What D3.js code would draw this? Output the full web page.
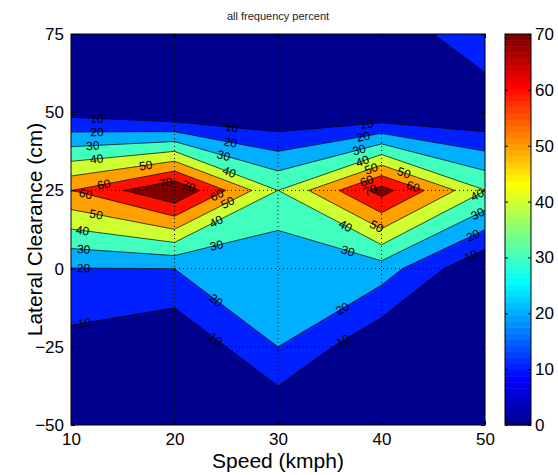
<!DOCTYPE html>
<html>
<head>
<meta charset="utf-8">
<script src="https://cdn.jsdelivr.net/npm/d3@7"></script>
<style>
  body { margin: 0; background: #fff; }
  text { font-family: "Liberation Sans", Arial, Helvetica, sans-serif; }
</style>
</head>
<body>
<svg id="chart" width="558" height="475"></svg>
<script>
// Grid axes
const speeds = [10, 20, 30, 40, 50];            // kmph
const clearances = [-50, -25, 0, 25, 50, 75];   // cm

// Frequency percent at each speed, one row per lateral clearance
const freqAtM50 = [0, 0, 0, 0, 0];
const freqAtM25 = [6.3, 0, 20.02, 1, 0];
const freqAt0   = [19.7, 20.05, 20.5, 25.1, 0];
const freqAt25  = [59.8, 79.7, 39.95, 74, 40.2];
const freqAt50  = [6.5, 0.2, 0, 0, 0];
const freqAt75  = [0, 0, 0, 0, 19.8];

// Contour levels and tick values
const levels = [0, 10, 20, 30, 40, 50, 60, 70];
const xTicks = [10, 20, 30, 40, 50];
const yTicks = [-50, -25, 0, 25, 50, 75];
const cbTicks = [0, 10, 20, 30, 40, 50, 60, 70];

// Contour label anchors: [level, speed, clearance]
const labelSpots = [
  [10, 12.5, 47.0], [20, 12.5, 43.6], [30, 12.1, 39.0], [40, 12.5, 34.5],
  [50, 17.25, 32.4], [60, 13.2, 26.2], [60, 11.35, 23.0], [70, 19.2, 26.7],
  [70, 21.3, 25.7], [60, 24.2, 22.8], [50, 25.2, 20.7], [50, 12.4, 16.8],
  [40, 24.1, 14.5], [40, 11.1, 11.5], [30, 24.1, 7.0], [30, 11.2, 5.4],
  [20, 11.2, 0.1], [10, 25.5, 44.3], [20, 25.4, 40.1], [30, 24.7, 35.6],
  [40, 25.2, 30.2], [20, 23.9, -10.6], [10, 23.9, -22.8], [10, 11.35, -18.6],
  [10, 38.6, 45.4], [20, 38.3, 41.3], [30, 37.9, 37.1], [40, 38.2, 33.9],
  [50, 39.05, 31.5], [50, 42.1, 29.9], [60, 38.6, 27.8], [70, 38.9, 25.1],
  [60, 43.0, 25.7], [40, 49.35, 23.0], [30, 49.35, 17.1], [20, 48.9, 10.2],
  [10, 48.7, 3.8], [40, 36.4, 12.9], [50, 39.5, 13.4], [30, 36.7, 5.1],
  [20, 36.25, -13.0], [10, 36.25, -22.8]
];

const plot = { left: 71, right: 485, top: 34, bottom: 425 };
const cbar = { left: 505, right: 531 };

const svg = d3.select("#chart");

const xScale = d3.scaleLinear().domain([speeds[0], speeds[speeds.length - 1]]).range([plot.left, plot.right]);
const yScale = d3.scaleLinear().domain([clearances[0], clearances[clearances.length - 1]]).range([plot.bottom, plot.top]);

// MATLAB-style 64-entry jet colormap (k is 1-based)
const nColors = 64, cmin = 0, cmax = 70;
function jet(k) {
  const r = k < 25 ? 0 : k <= 40 ? (k - 24) / 16 : k <= 56 ? 1 : (72 - k) / 16;
  const g = k < 9 ? 0 : k <= 24 ? (k - 8) / 16 : k <= 40 ? 1 : k <= 55 ? (56 - k) / 16 : 0;
  const b = k <= 8 ? (k + 8) / 16 : k <= 24 ? 1 : k <= 39 ? (40 - k) / 16 : 0;
  return d3.rgb(Math.round(r * 255), Math.round(g * 255), Math.round(b * 255)).toString();
}
const levelColor = v => jet(Math.min(nColors, Math.floor((v - cmin) / (cmax - cmin) * nColors) + 1));

// Contour geometry on the speed x clearance grid
const nx = speeds.length, ny = clearances.length;
const rows = [freqAtM50, freqAtM25, freqAt0, freqAt25, freqAt50, freqAt75];
const values = rows.flat();
const contours = d3.contours().size([nx, ny]).thresholds(levels)(values);

// Grid cell coordinates -> data units (values sit at cell centres)
const colX = d3.scaleLinear().domain([0.5, nx - 0.5]).range([speeds[0], speeds[nx - 1]]);
const rowY = d3.scaleLinear().domain([0.5, ny - 0.5]).range([clearances[0], clearances[ny - 1]]);
const toPx = ([p, q]) => [xScale(colX(p)), yScale(rowY(q))];
const proj = d3.geoTransform({
  point(p, q) { const [a, b] = toPx([p, q]); this.stream.point(a, b); }
});
const path = d3.geoPath(proj);

svg.append("defs").append("clipPath").attr("id", "plotClip")
  .append("rect")
  .attr("x", plot.left).attr("y", plot.top)
  .attr("width", plot.right - plot.left).attr("height", plot.bottom - plot.top);

const area = svg.append("g").attr("clip-path", "url(#plotClip)");

// Filled bands
area.append("g").selectAll("path")
  .data(contours)
  .join("path")
  .attr("d", path)
  .attr("fill", d => levelColor(d.value))
  .attr("stroke", "none");

// Contour lines
area.append("g").selectAll("path")
  .data(contours.filter(d => d.value > levels[0]))
  .join("path")
  .attr("d", path)
  .attr("fill", "none")
  .attr("stroke", "#000")
  .attr("stroke-width", 0.7);

// Dotted grid
const gridG = svg.append("g").attr("stroke", "#000").attr("stroke-width", 0.9)
  .attr("stroke-dasharray", "1,3");
gridG.selectAll("line.gx").data(xTicks.slice(1, -1)).join("line")
  .attr("x1", d => xScale(d)).attr("x2", d => xScale(d))
  .attr("y1", plot.top).attr("y2", plot.bottom);
gridG.selectAll("line.gy").data(yTicks.slice(1, -1)).join("line")
  .attr("y1", d => yScale(d)).attr("y2", d => yScale(d))
  .attr("x1", plot.left).attr("x2", plot.right);

// Contour labels, snapped onto their level's line and turned along it
const insideDomain = ([x, y]) =>
  x >= speeds[0] - 1e-9 && x <= speeds[nx - 1] + 1e-9 &&
  y >= clearances[0] - 1e-9 && y <= clearances[ny - 1] + 1e-9;
function segmentsFor(level) {
  const c = contours.find(d => d.value === level);
  const segs = [];
  c.coordinates.forEach(poly => poly.forEach(ring => {
    for (let i = 0; i < ring.length - 1; i++) {
      const a = [colX(ring[i][0]), rowY(ring[i][1])];
      const b = [colX(ring[i + 1][0]), rowY(ring[i + 1][1])];
      if (insideDomain(a) && insideDomain(b)) {
        segs.push([[xScale(a[0]), yScale(a[1])], [xScale(b[0]), yScale(b[1])]]);
      }
    }
  }));
  return segs;
}
function snap(level, sx, sy) {
  const px = xScale(sx), py = yScale(sy);
  let best = null;
  segmentsFor(level).forEach(([a, b]) => {
    const dx = b[0] - a[0], dy = b[1] - a[1];
    const len2 = dx * dx + dy * dy;
    if (len2 < 1e-9) return;
    let t = ((px - a[0]) * dx + (py - a[1]) * dy) / len2;
    t = Math.max(0, Math.min(1, t));
    const qx = a[0] + t * dx, qy = a[1] + t * dy;
    const dist = (qx - px) ** 2 + (qy - py) ** 2;
    if (!best || dist < best.dist) {
      let ang = Math.atan2(dy, dx) * 180 / Math.PI;
      if (ang > 90) ang -= 180;
      if (ang <= -90) ang += 180;
      best = { x: qx, y: qy, ang, dist };
    }
  });
  return best || { x: px, y: py, ang: 0 };
}
svg.append("g").selectAll("text")
  .data(labelSpots.map(([lv, sx, sy]) => ({ lv, ...snap(lv, sx, sy) })))
  .join("text")
  .attr("transform", d => `translate(${d.x},${d.y}) rotate(${d.ang})`)
  .attr("text-anchor", "middle")
  .attr("dy", "0.35em")
  .attr("font-size", 12)
  .attr("fill", "#000")
  .text(d => d.lv);

// Axes with inward ticks
const axisFont = 17;
const gx = svg.append("g").attr("transform", `translate(0,${plot.bottom})`)
  .call(d3.axisBottom(xScale).tickValues(xTicks).tickSizeInner(-4).tickSizeOuter(0).tickPadding(8));
const gy = svg.append("g").attr("transform", `translate(${plot.left},0)`)
  .call(d3.axisLeft(yScale).tickValues(yTicks).tickSizeInner(-4).tickSizeOuter(0).tickPadding(7));
const gxTop = svg.append("g").attr("transform", `translate(0,${plot.top})`)
  .call(d3.axisTop(xScale).tickValues(xTicks).tickSizeInner(-4).tickSizeOuter(0).tickFormat(""));
const gyRight = svg.append("g").attr("transform", `translate(${plot.right},0)`)
  .call(d3.axisRight(yScale).tickValues(yTicks).tickSizeInner(-4).tickSizeOuter(0).tickFormat(""));
[gx, gy, gxTop, gyRight].forEach(g => {
  g.select(".domain").remove();
  g.selectAll(".tick line").attr("stroke", "#000");
  g.selectAll(".tick text").attr("font-size", axisFont).attr("fill", "#000")
    .attr("font-family", "Liberation Sans, Arial, sans-serif");
});

svg.append("rect")
  .attr("x", plot.left).attr("y", plot.top)
  .attr("width", plot.right - plot.left).attr("height", plot.bottom - plot.top)
  .attr("fill", "none").attr("stroke", "#000").attr("stroke-width", 1);

// Colorbar
const cbScale = d3.scaleLinear().domain([cmin, cmax]).range([plot.bottom, plot.top]);
const bands = d3.range(nColors);
svg.append("g").selectAll("rect")
  .data(bands)
  .join("rect")
  .attr("x", cbar.left)
  .attr("width", cbar.right - cbar.left)
  .attr("y", k => cbScale(cmin + (k + 1) * (cmax - cmin) / nColors))
  .attr("height", k => cbScale(cmin + k * (cmax - cmin) / nColors) - cbScale(cmin + (k + 1) * (cmax - cmin) / nColors) + 0.5)
  .attr("fill", k => jet(k + 1));
const gcb = svg.append("g").attr("transform", `translate(${cbar.right},0)`)
  .call(d3.axisRight(cbScale).tickValues(cbTicks).tickSizeInner(-3).tickSizeOuter(0).tickPadding(4));
const gcbL = svg.append("g").attr("transform", `translate(${cbar.left},0)`)
  .call(d3.axisLeft(cbScale).tickValues(cbTicks).tickSizeInner(-3).tickSizeOuter(0).tickFormat(""));
[gcb, gcbL].forEach(g => {
  g.select(".domain").remove();
  g.selectAll(".tick line").attr("stroke", "#000");
  g.selectAll(".tick text").attr("font-size", axisFont).attr("fill", "#000")
    .attr("font-family", "Liberation Sans, Arial, sans-serif");
});
svg.append("rect")
  .attr("x", cbar.left).attr("y", plot.top)
  .attr("width", cbar.right - cbar.left).attr("height", plot.bottom - plot.top)
  .attr("fill", "none").attr("stroke", "#000").attr("stroke-width", 1);

// Titles
svg.append("text")
  .attr("x", (plot.left + plot.right) / 2).attr("y", 20)
  .attr("text-anchor", "middle").attr("font-size", 11).attr("fill", "#222")
  .text("all frequency percent");
svg.append("text")
  .attr("x", (plot.left + plot.right) / 2).attr("y", 468)
  .attr("text-anchor", "middle").attr("font-size", 21).attr("fill", "#000")
  .text("Speed (kmph)");
svg.append("text")
  .attr("transform", `translate(35,${(plot.top + plot.bottom) / 2}) rotate(-90)`)
  .attr("text-anchor", "middle").attr("dy", "0.35em").attr("font-size", 21).attr("fill", "#000")
  .text("Lateral Clearance (cm)");
</script>
</body>
</html>
